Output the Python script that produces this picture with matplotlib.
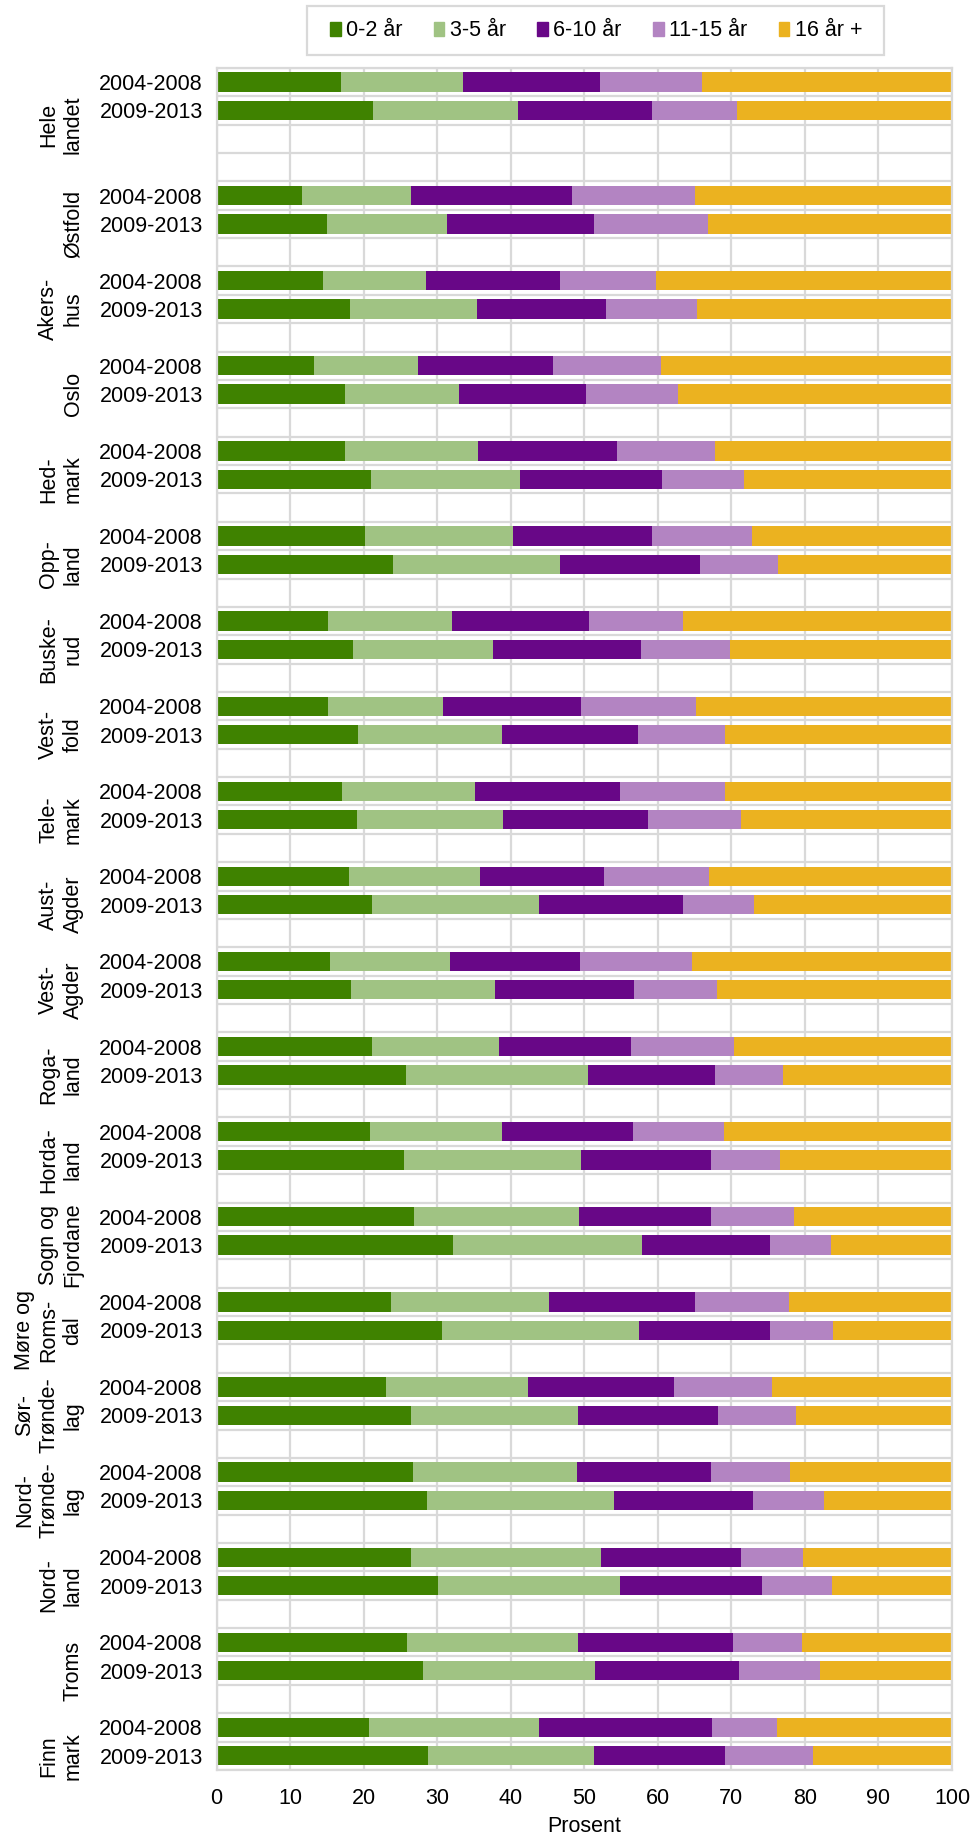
import numpy as np
import matplotlib.pyplot as plt
from matplotlib.patches import Rectangle

plt.rcParams['font.family'] = ['Liberation Sans', 'DejaVu Sans']

regions = ['Hele\nlandet', 'Østfold', 'Akers-\nhus', 'Oslo', 'Hed-\nmark', 'Opp-\nland',
           'Buske-\nrud', 'Vest-\nfold', 'Tele-\nmark', 'Aust-\nAgder', 'Vest-\nAgder',
           'Roga-\nland', 'Horda-\nland', 'Sogn og\nFjordane', 'Møre og\nRoms-\ndal',
           'Sør-\nTrønde-\nlag', 'Nord-\nTrønde-\nlag', 'Nord-\nland', 'Troms', 'Finn\nmark']
periods = ['2004-2008', '2009-2013']
series = ['0-2 år', '3-5 år', '6-10 år', '11-15 år', '16 år +']
colors = ['#3f8200', '#a0c383', '#680787', '#b384c2', '#ebb220']

# 2004-2008, percent per age group
p1_0_2 = [16.9, 11.6, 14.4, 13.2, 17.4, 20.2, 15.1, 15.1, 17.0, 18.0, 15.4, 21.1, 20.8, 26.9, 23.7, 23.1, 26.7, 26.4, 25.9, 20.7]
p1_3_5 = [16.6, 14.8, 14.1, 14.2, 18.1, 20.1, 16.9, 15.7, 18.2, 17.8, 16.3, 17.3, 18.0, 22.4, 21.5, 19.2, 22.3, 25.9, 23.2, 23.1]
p1_6_10 = [18.7, 21.9, 18.2, 18.4, 18.9, 18.9, 18.6, 18.7, 19.7, 16.9, 17.7, 18.0, 17.8, 17.9, 19.9, 19.9, 18.2, 19.0, 21.1, 23.5]
p1_11_15 = [13.8, 16.8, 13.0, 14.6, 13.4, 13.6, 12.8, 15.7, 14.3, 14.3, 15.3, 14.0, 12.4, 11.3, 12.7, 13.3, 10.8, 8.4, 9.4, 8.9]
p1_16 = [34.0, 34.9, 40.3, 39.6, 32.2, 27.2, 36.6, 34.8, 30.8, 33.0, 35.3, 29.6, 31.0, 21.5, 22.2, 24.5, 22.0, 20.3, 20.4, 23.8]

# 2009-2013
p2_0_2 = [21.3, 15.0, 18.1, 17.4, 21.0, 24.0, 18.5, 19.2, 19.1, 21.1, 18.3, 25.7, 25.5, 32.1, 30.6, 26.4, 28.6, 30.1, 28.0, 28.7]
p2_3_5 = [19.7, 16.3, 17.3, 15.6, 20.2, 22.7, 19.1, 19.6, 19.8, 22.8, 19.5, 24.8, 24.0, 25.8, 26.8, 22.7, 25.4, 24.8, 23.5, 22.6]
p2_6_10 = [18.2, 20.0, 17.5, 17.2, 19.3, 19.0, 20.1, 18.5, 19.7, 19.5, 19.0, 17.3, 17.7, 17.4, 17.8, 19.1, 19.0, 19.2, 19.6, 17.9]
p2_11_15 = [11.5, 15.5, 12.4, 12.5, 11.2, 10.6, 12.1, 11.9, 12.7, 9.7, 11.3, 9.2, 9.4, 8.2, 8.6, 10.6, 9.6, 9.6, 11.0, 11.9]
p2_16 = [29.3, 33.2, 34.7, 37.3, 28.3, 23.7, 30.2, 30.8, 28.7, 26.9, 31.9, 23.0, 23.4, 16.5, 16.2, 21.2, 17.4, 16.3, 17.9, 18.9]

per1 = [p1_0_2, p1_3_5, p1_6_10, p1_11_15, p1_16]
per2 = [p2_0_2, p2_3_5, p2_6_10, p2_11_15, p2_16]

# row layout: Hele landet takes 4 rows, others 3 (two bars + blank)
n = len(regions)
first = np.array([0] + [4 + 3 * (k - 1) for k in range(1, n)])
second = first + 1
nrows = second[-1] + 1
group_center = np.array([1.5] + [f + 1 for f in first[1:]])

fig = plt.figure(figsize=(9.78, 18.36), dpi=100)
ax = fig.add_axes([0.2215, 0.0360, 0.7519, 0.9270])

fs = 15.5
h = 0.68
for pos, vals in ((first, per1), (second, per2)):
    left = np.zeros(n)
    for s, c in zip(vals, colors):
        ax.barh(pos, s, left=left, height=h, color=c, linewidth=0, zorder=2)
        left += np.array(s)

ax.set_xlim(0, 100)
ax.set_ylim(nrows - 0.5, -0.5)
ax.set_xticks(np.arange(0, 101, 10))
ax.set_yticks(np.concatenate([first, second]))
ax.set_yticklabels([periods[0]] * n + [periods[1]] * n)
ax.set_yticks(np.arange(-0.5, nrows, 1), minor=True)
ax.tick_params(axis='y', which='both', length=0, pad=10, labelsize=fs)
ax.tick_params(axis='x', length=0, pad=13, labelsize=fs)
ax.set_axisbelow(True)
gc = '#d9d9d9'
ax.grid(axis='x', which='major', color=gc, linewidth=1.6)
ax.grid(axis='y', which='minor', color=gc, linewidth=1.6)
for sp in ax.spines.values():
    sp.set_color(gc)
    sp.set_linewidth(1.6)
ax.set_xlabel('Prosent', fontsize=fs, labelpad=5)

for lab, yc in zip(regions, group_center):
    ax.text(-0.181, yc, lab, transform=ax.get_yaxis_transform(), rotation=90,
            ha='right', va='center', multialignment='center', fontsize=fs)

handles = [Rectangle((0, 0), 1, 1, color=c) for c in colors]
fig.legend(handles, series, loc='center', bbox_to_anchor=(596 / 978, 1 - 31 / 1836),
           ncol=5, frameon=False, fontsize=fs, handlelength=0.5, handleheight=0.65,
           handletextpad=0.25, columnspacing=1.45)
fig.patches.append(Rectangle((307 / 978, 1 - 55 / 1836), 577 / 978, 49 / 1836,
                             transform=fig.transFigure, fill=False, edgecolor=gc,
                             linewidth=1.6))

fig.savefig('out.png', dpi=100)
